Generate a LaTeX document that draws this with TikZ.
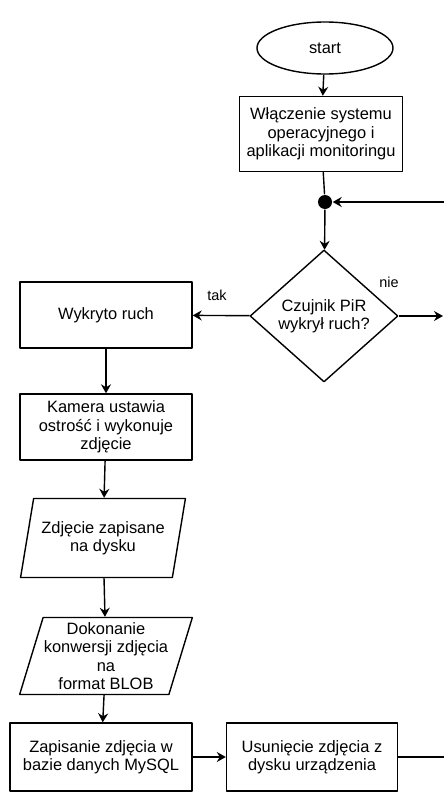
\documentclass[tikz,border=0pt]{standalone}
\usepackage{fontspec}
\setmainfont{Liberation Sans}
\usepackage{tikz}
\usetikzlibrary{arrows.meta,shapes}

\begin{document}
\begin{tikzpicture}[x=1bp,y=-1bp,>={Stealth[length=9bp,width=10bp,inset=3bp]},line join=bevel,line width=1.4bp,
  font=\fontsize{16.5}{18.5}\selectfont,
  stepbox/.style={draw,rectangle,align=center,inner sep=1bp},
  iobox/.style={draw,trapezium,trapezium left angle=71,trapezium right angle=109,
    trapezium stretches,align=center,inner sep=0bp},
  lbl/.style={font=\fontsize{14.5}{16}\selectfont}]
%%
  \path[use as bounding box] (0,0) rectangle (444,792);
  \node (start) at (325,48) [draw,ellipse,minimum width=136bp,minimum height=52bp] {start};
  \node (init) at (321,134) [stepbox,minimum width=163bp,minimum height=75bp] {W\l{}ączenie systemu\\operacyjnego i\\aplikacji monitoringu};
  \node (join) at (325,202) [circle,fill=black,inner sep=0pt,minimum size=14bp] {};
  \node (pir) at (324,316) [draw,diamond,aspect=1.12,inner sep=0pt,minimum width=148bp,minimum height=132bp,align=center] {Czujnik PiR\\wykry\l{} ruch?};
  \node (detect) at (106,315) [stepbox,minimum width=172bp,minimum height=66bp] {Wykryto ruch};
  \node (camera) at (106,427) [stepbox,minimum width=172bp,minimum height=66bp] {Kamera ustawia\\ostrość i wykonuje\\zdjęcie};
  \node (saved) at (103,538) [iobox,minimum width=165bp,minimum height=79bp] {Zdjęcie zapisane\\na dysku};
  \node (blob) at (106,656) [iobox,minimum width=173bp,minimum height=77bp] {Dokonanie\\konwersji zdjęcia\\na\\format BLOB};
  \node (store) at (101,757) [stepbox,minimum width=182bp,minimum height=68bp] {Zapisanie zdjęcia w\\bazie danych MySQL};
  \node (remove) at (312,757) [stepbox,minimum width=171bp,minimum height=68bp] {Usunięcie zdjęcia z\\dysku urządzenia};
  \coordinate (back) at (444,202);
  \coordinate (out) at (444,757);
  \coordinate (no) at (443,316);
  \node (tak) at (217,295) [lbl] {tak};
  \node (nie) at (389,282) [lbl] {nie};
  \draw [->] (start) -- (init);
  \draw (init) -- (join);
  \draw [->] (join) -- (pir);
  \draw [->] (back) -- (join);
  \draw [->] (pir) -- (detect);
  \draw [->] (pir) -- (no);
  \draw [->] (detect) -- (camera);
  \draw [->] (camera) -- (saved);
  \draw [->] (saved) -- (blob);
  \draw [->] (blob) -- (store);
  \draw [->] (store) -- (remove);
  \draw (remove) -- (out);
%
\end{tikzpicture}
\end{document}
